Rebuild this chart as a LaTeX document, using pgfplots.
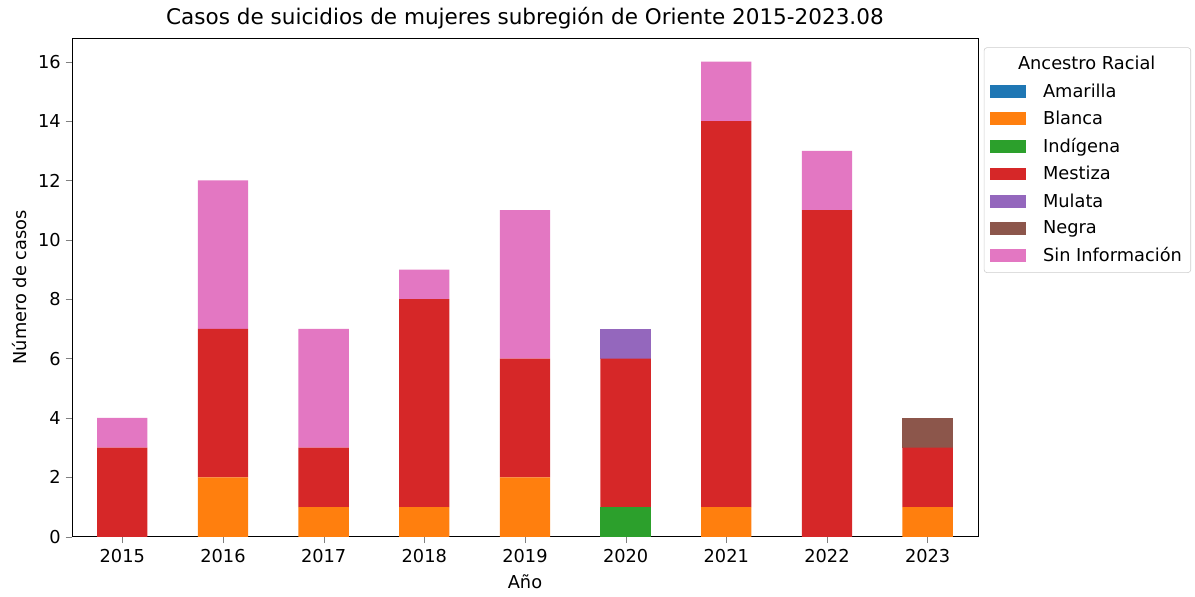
\documentclass[border=0pt]{standalone}
\usepackage{fontspec}
\setmainfont{DejaVu Sans}
\usepackage{pgfplots}
\pgfplotsset{compat=1.18}
\definecolor{c0}{HTML}{1F77B4}
\definecolor{c1}{HTML}{FF7F0E}
\definecolor{c2}{HTML}{2CA02C}
\definecolor{c3}{HTML}{D62728}
\definecolor{c4}{HTML}{9467BD}
\definecolor{c5}{HTML}{8C564B}
\definecolor{c6}{HTML}{E377C2}
\begin{document}
\begin{tikzpicture}
\begin{axis}[
  name=ax,
  scale only axis, width=652pt, height=359pt,
  ybar stacked, bar width=0.5,
  xmin=-0.5, xmax=8.5, ymin=0, ymax=16.8,
  xtick={0,1,2,3,4,5,6,7,8},
  xticklabels={2015,2016,2017,2018,2019,2020,2021,2022,2023},
  ytick={0,2,4,6,8,10,12,14,16},
  /pgf/number format/assume math mode=true,
  tick label style={font=\fontsize{12.8}{15}\selectfont},
  xticklabel style={yshift=-1.2pt},
  label style={font=\fontsize{12.8}{15}\selectfont},
  title style={font=\fontsize{15.5}{18}\selectfont, yshift=-3pt},
  xlabel style={yshift=-1.5pt},
  ylabel style={yshift=1pt},
  tick align=outside, tick pos=left,
  major tick length=4.5pt,
  title={Casos de suicidios de mujeres subregión de Oriente 2015-2023.08},
  xlabel={Año}, ylabel={Número de casos},
  legend style={at={(1.0065,0.981)}, anchor=north west,
    font=\fontsize{12.8}{15}\selectfont, draw=black!20, rounded corners=2pt,
    cells={anchor=west}, row sep=4.4pt, column sep=10.1pt, inner sep=4.3pt},
  legend image code/.code={\fill[#1, sharp corners] (0pt,-4.6pt) rectangle (26pt,4.6pt);},
]
\addlegendimage{empty legend}
\addlegendentry{\hspace*{-18pt}Ancestro Racial}
\addplot[fill=c0, draw=none] coordinates {(0,0) (1,0) (2,0) (3,0) (4,0) (5,0) (6,0) (7,0) (8,0)};
\addlegendentry{Amarilla}
\addplot[fill=c1, draw=none] coordinates {(0,0) (1,2) (2,1) (3,1) (4,2) (5,0) (6,1) (7,0) (8,1)};
\addlegendentry{Blanca}
\addplot[fill=c2, draw=none] coordinates {(0,0) (1,0) (2,0) (3,0) (4,0) (5,1) (6,0) (7,0) (8,0)};
\addlegendentry{Indígena}
\addplot[fill=c3, draw=none] coordinates {(0,3) (1,5) (2,2) (3,7) (4,4) (5,5) (6,13) (7,11) (8,2)};
\addlegendentry{Mestiza}
\addplot[fill=c4, draw=none] coordinates {(0,0) (1,0) (2,0) (3,0) (4,0) (5,1) (6,0) (7,0) (8,0)};
\addlegendentry{Mulata}
\addplot[fill=c5, draw=none] coordinates {(0,0) (1,0) (2,0) (3,0) (4,0) (5,0) (6,0) (7,0) (8,1)};
\addlegendentry{Negra}
\addplot[fill=c6, draw=none] coordinates {(0,1) (1,5) (2,4) (3,1) (4,5) (5,0) (6,2) (7,2) (8,0)};
\addlegendentry{Sin Información}
\end{axis}
\useasboundingbox ([xshift=-51.8pt,yshift=-43.2pt]ax.south west) rectangle ([xshift=156.2pt,yshift=27.3pt]ax.north east);
\end{tikzpicture}
\end{document}
